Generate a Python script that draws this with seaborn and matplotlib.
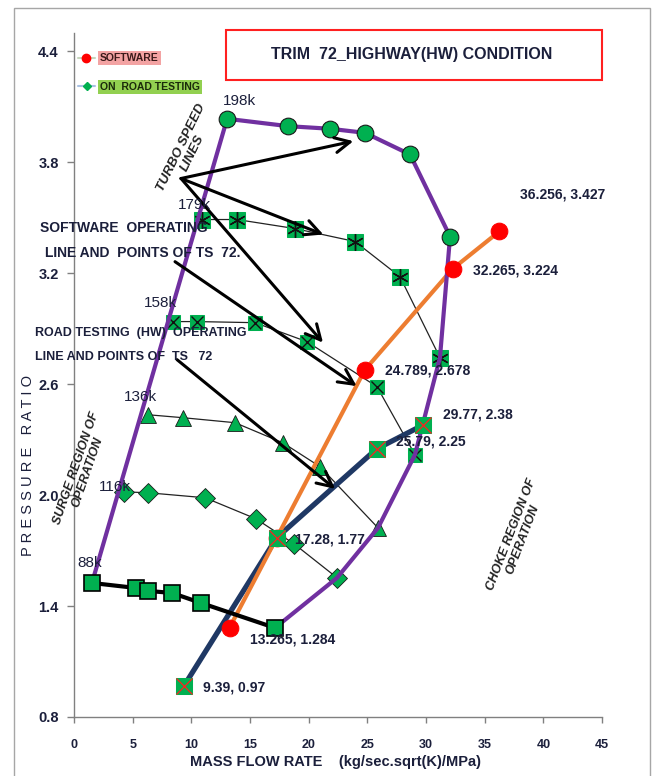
import matplotlib
matplotlib.use("Agg")
import matplotlib.pyplot as plt
import seaborn as sns
import pandas as pd
from matplotlib.patches import Rectangle
from matplotlib.lines import Line2D
from matplotlib import font_manager

# ---------------- data ----------------
speed_labels = ["198k", "179k", "158k", "136k", "116k", "88k"]

flow_198k = [13.05, 18.26, 21.82, 24.80, 28.64, 32.05]
pr_198k = [4.036, 3.996, 3.982, 3.960, 3.843, 3.399]
flow_179k = [10.91, 13.89, 18.84, 23.95, 27.78, 31.19]
pr_179k = [3.491, 3.491, 3.442, 3.372, 3.182, 2.744]
flow_158k = [8.44, 10.48, 15.43, 19.86, 25.82, 29.06]
pr_158k = [2.939, 2.939, 2.933, 2.830, 2.587, 2.219]
flow_136k = [6.31, 9.29, 13.72, 17.81, 20.97, 25.91]
pr_136k = [2.435, 2.419, 2.392, 2.283, 2.154, 1.823]
flow_116k = [4.26, 6.31, 11.17, 15.51, 18.75, 22.42]
pr_116k = [2.018, 2.013, 1.986, 1.872, 1.737, 1.553]
flow_88k = [1.53, 5.28, 6.31, 8.35, 10.82, 17.13]
pr_88k = [1.525, 1.498, 1.482, 1.471, 1.417, 1.282]

# software operating line (TS 72)
sw_flow = [13.265, 17.28, 24.789, 32.265, 36.256]
sw_pr = [1.284, 1.77, 2.678, 3.224, 3.427]
sw_labelled = [13.265, 24.789, 32.265, 36.256]

# on-road (HW) operating line (TS 72)
rt_flow = [9.39, 17.28, 25.79, 29.77]
rt_pr = [0.97, 1.77, 2.25, 2.38]

x_ticks = [0, 5, 10, 15, 20, 25, 30, 35, 40, 45]
y_ticks = [0.8, 1.4, 2.0, 2.6, 3.2, 3.8, 4.4]

# ---------------- style ----------------
sns.set_theme(style="white")
avail = {f.name for f in font_manager.fontManager.ttflist}
narrow = "Liberation Sans Narrow" if "Liberation Sans Narrow" in avail else "Liberation Sans"
plt.rcParams["font.family"] = ["Liberation Sans", "DejaVu Sans"]
NARROW = [narrow, "DejaVu Sans"]
TXT = "#1b1f3b"

W, H = 658, 776
def fx(px):
    return px / W
def fy(py):
    return 1 - py / H

fig = plt.figure(figsize=(W / 100, H / 100), dpi=100)
ax = fig.add_axes([fx(74), fy(717), (602 - 74) / W, (717 - 33) / H])
ax.set_xlim(0, 45)
ax.set_ylim(0.8, 4.5)

GREEN = "#00B050"
PURPLE = "#7030A0"
ORANGE = "#ED7D31"
NAVY = "#1F3864"

# ---------------- speed lines ----------------
speed_lines = [
    (flow_179k, pr_179k, dict(marker="s", markersize=11, mfc=GREEN, mec=GREEN)),
    (flow_158k, pr_158k, dict(marker="s", markersize=10, mfc=GREEN, mec=GREEN)),
    (flow_136k, pr_136k, dict(marker="^", markersize=12, mfc=GREEN, mec="#1a1a1a", mew=0.6)),
    (flow_116k, pr_116k, dict(marker="D", markersize=10, mfc=GREEN, mec="#1a1a1a", mew=0.6)),
]
for fl, pr, mk in speed_lines:
    df = pd.DataFrame({"flow": fl, "pr": pr})
    sns.lineplot(data=df, x="flow", y="pr", sort=False, color="#222222", lw=0.9,
                 ax=ax, zorder=3, **mk)

# cross marks inside the square markers
sns.lineplot(x=flow_179k, y=pr_179k, sort=False, lw=0, marker=(6, 2, 0), markersize=12,
             mec="#111111", mew=1.0, ax=ax, zorder=3.5)
sns.lineplot(x=flow_158k, y=pr_158k, sort=False, lw=0, marker="x", markersize=8.5,
             mec="#111111", mew=1.0, ax=ax, zorder=3.5)

# ---------------- operating lines ----------------
sns.lineplot(x=rt_flow, y=rt_pr, sort=False, color=NAVY, lw=3.8, ax=ax, zorder=4)
sns.lineplot(x=sw_flow, y=sw_pr, sort=False, color=ORANGE, lw=3.0, ax=ax, zorder=5)

# ---------------- surge / choke envelope ----------------
env_flow = [flow_88k[0]] + flow_198k + [flow_179k[-1], flow_158k[-1], flow_136k[-1],
                                        flow_116k[-1], flow_88k[-1]]
env_pr = [pr_88k[0]] + pr_198k + [pr_179k[-1], pr_158k[-1], pr_136k[-1],
                                  pr_116k[-1], pr_88k[-1]]
sns.lineplot(x=env_flow, y=env_pr, sort=False, color=PURPLE, lw=3.0, ax=ax, zorder=6)
sns.lineplot(x=flow_198k, y=pr_198k, sort=False, lw=0, marker="o", markersize=12,
             mfc=GREEN, mec="#1a1a1a", mew=0.8, ax=ax, zorder=7)

# 88k speed line
sns.lineplot(x=flow_88k, y=pr_88k, sort=False, color="black", lw=3.0, marker="s",
             markersize=12, mfc=GREEN, mec="black", mew=1.2, ax=ax, zorder=7)

# operating points
sns.lineplot(x=sw_flow, y=sw_pr, sort=False, lw=0, marker="o", markersize=12,
             mfc="#FF0000", mec="#FF0000", ax=ax, zorder=8)
sns.lineplot(x=rt_flow, y=rt_pr, sort=False, lw=0, marker="s", markersize=11,
             mfc=GREEN, mec=GREEN, ax=ax, zorder=8.5)
sns.lineplot(x=rt_flow, y=rt_pr, sort=False, lw=0, marker="x", markersize=11,
             mec="#FF2020", mew=0.9, ax=ax, zorder=8.6)

# ---------------- value labels ----------------
label_offsets = {
    13.265: (20, -12), 24.789: (20, -1), 32.265: (20, -2), 36.256: (21, 37),
    9.39: (19, -2), 17.28: (18, -2), 25.79: (19, 7), 29.77: (20, 10),
}
for x, y in zip(sw_flow, sw_pr):
    if x in sw_labelled:
        ax.annotate(f"{x:g}, {y:g}", xy=(x, y), xytext=label_offsets[x],
                    textcoords="offset pixels", ha="left", va="center",
                    fontsize=10, fontweight="bold", family=NARROW, color=TXT, zorder=10)
for x, y in zip(rt_flow, rt_pr):
    ax.annotate(f"{x:g}, {y:g}", xy=(x, y), xytext=label_offsets[x],
                textcoords="offset pixels", ha="left", va="center",
                fontsize=10, fontweight="bold", family=NARROW, color=TXT, zorder=10)

# speed labels at the first point of each line
firsts = [(flow_198k[0], pr_198k[0]), (flow_179k[0], pr_179k[0]), (flow_158k[0], pr_158k[0]),
          (flow_136k[0], pr_136k[0]), (flow_116k[0], pr_116k[0]), (flow_88k[0], pr_88k[0])]
speed_offsets = [(12, 18), (-8, 15), (-13, 19), (-8, 18), (-9, 5), (-2, 20)]
for lab, (x, y), off in zip(speed_labels, firsts, speed_offsets):
    ax.annotate(lab, xy=(x, y), xytext=off, textcoords="offset pixels",
                ha="center", va="center", fontsize=11, color=TXT, zorder=10)

# ---------------- pointer arrows ----------------
arrow_specs = [
    ((9.12, 3.713), (23.81, 3.915)),
    ((9.12, 3.713), (21.25, 3.410)),
    ((9.12, 3.713), (21.22, 2.825)),
    ((8.61, 3.263), (24.09, 2.590)),
    ((8.78, 2.733), (22.25, 2.034)),
]
for tail, head in arrow_specs:
    ax.annotate("", xy=head, xytext=tail,
                arrowprops=dict(arrowstyle="->,head_length=0.9,head_width=0.45",
                                color="black", lw=2.2, shrinkA=0, shrinkB=0),
                zorder=9)

# ---------------- axes styling ----------------
ax.set_xticks(x_ticks)
ax.set_yticks(y_ticks)
ax.set_yticklabels([f"{v:.1f}" for v in y_ticks])
for side in ["top", "right"]:
    ax.spines[side].set_visible(False)
for side in ["left", "bottom"]:
    ax.spines[side].set_color("#808080")
    ax.spines[side].set_linewidth(1.0)
ax.tick_params(axis="y", direction="out", length=5, width=1, color="#808080",
               pad=6, labelsize=10.5, labelcolor=TXT, left=True)
ax.tick_params(axis="x", direction="out", length=4, width=1, color="#808080",
               pad=12, labelsize=9, labelcolor=TXT, bottom=True)
for t in ax.get_yticklabels():
    t.set_fontweight("bold")
for t in ax.get_xticklabels():
    t.set_fontweight("bold")
    t.set_family(NARROW)
ax.set_xlabel("")
ax.set_ylabel("")
ax.grid(False)

fig.text(fx(28), fy(466), "P R E S S U R E   R A T I O", rotation=90, ha="center",
         va="center", fontsize=10.5, color=TXT)
fig.text(fx(336), fy(762), "MASS FLOW RATE    (kg/sec.sqrt(K)/MPa)", ha="center",
         va="center", fontsize=10.5, fontweight="bold", family=NARROW, color=TXT)

# ---------------- descriptive texts ----------------
fig.text(fx(187), fy(150), "TURBO SPEED\nLINES", rotation=64, rotation_mode="anchor",
         ha="center", va="center", fontsize=9.5, fontweight="bold", style="italic",
         color="#222222", linespacing=1.0, zorder=10)
fig.text(fx(40), fy(228), "SOFTWARE  OPERATING", ha="left", va="center", fontsize=10,
         fontweight="bold", family=NARROW, color=TXT)
fig.text(fx(45), fy(253), "LINE AND  POINTS OF TS  72.", ha="left", va="center",
         fontsize=10, fontweight="bold", family=NARROW, color=TXT)
fig.text(fx(35), fy(333), "ROAD TESTING  (HW)  OPERATING", ha="left", va="center",
         fontsize=9, fontweight="bold", family=NARROW, color=TXT)
fig.text(fx(35), fy(357), "LINE AND POINTS OF  TS   72", ha="left", va="center",
         fontsize=9, fontweight="bold", family=NARROW, color=TXT)
fig.text(fx(82), fy(470), "SURGE REGION OF\nOPERATION", rotation=71, rotation_mode="anchor",
         ha="center", va="center", fontsize=9, fontweight="bold", style="italic",
         color="#222222", linespacing=1.0)
fig.text(fx(517), fy(537), "CHOKE REGION OF\nOPERATION", rotation=69, rotation_mode="anchor",
         ha="center", va="center", fontsize=9, fontweight="bold", style="italic",
         color="#222222", linespacing=1.0)

# ---------------- title box ----------------
fig.add_artist(Rectangle((fx(226), fy(80)), (602 - 226) / W, 50 / H,
                         transform=fig.transFigure, fill=False, edgecolor="#FF2020", lw=1.5))
fig.text(fx(412), fy(54), "TRIM  72_HIGHWAY(HW) CONDITION", ha="center", va="center",
         fontsize=11.5, fontweight="bold", family=NARROW, color=TXT)

# ---------------- legend ----------------
fig.add_artist(Line2D([fx(78), fx(95)], [fy(58), fy(58)], color="#c6d6bc", lw=1.5,
                      transform=fig.transFigure))
fig.add_artist(Line2D([fx(86)], [fy(58)], marker="o", markersize=6, color="#FF0000",
                      transform=fig.transFigure))
fig.add_artist(Line2D([fx(78), fx(95)], [fy(86), fy(86)], color="#a9c1e3", lw=1.5,
                      transform=fig.transFigure))
fig.add_artist(Line2D([fx(87)], [fy(86)], marker="D", markersize=4.5, color=GREEN,
                      transform=fig.transFigure))
fig.text(fx(100), fy(58), "SOFTWARE", ha="left", va="center", fontsize=7.5,
         fontweight="bold", family=NARROW, color="#3a1a1a",
         bbox=dict(facecolor="#F3A3A3", edgecolor="none", pad=1.5))
fig.text(fx(100), fy(87), "ON  ROAD TESTING", ha="left", va="center", fontsize=7.5,
         fontweight="bold", family=NARROW, color="#1a2a0a",
         bbox=dict(facecolor="#92D050", edgecolor="none", pad=1.5))

# outer chart frame
fig.add_artist(Rectangle((fx(14), -0.01), (650 - 14) / W, fy(8) + 0.01,
                         transform=fig.transFigure, fill=False, edgecolor="#a6a6a6", lw=1.0))

fig.savefig("out.png", dpi=100)
